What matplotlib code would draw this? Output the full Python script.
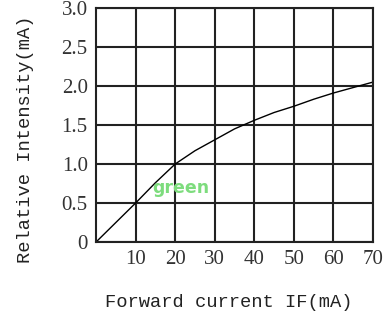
import numpy as np
import matplotlib
matplotlib.use('Agg')
import matplotlib.pyplot as plt

# forward current (mA) vs relative intensity
current = [0, 5, 10, 15, 20, 25, 30, 35, 40, 45, 50, 55, 60, 65, 70]
intensity = [0, 0.25, 0.5, 0.76, 1.0, 1.17, 1.31, 1.45, 1.56, 1.66, 1.74, 1.83, 1.91, 1.98, 2.05]

x_ticks = [10, 20, 30, 40, 50, 60, 70]
y_ticks = [0, 0.5, 1.0, 1.5, 2.0, 2.5, 3.0]
y_labels = ['0', '0.5', '1.0', '1.5', '2.0', '2.5', '3.0']

fig = plt.figure(figsize=(3.89, 3.18), dpi=100)
ax = fig.add_axes([0.247, 0.239, 0.712, 0.736])

ax.plot(current, intensity, color='black', lw=1.0)

ax.set_xlim(0, 70)
ax.set_ylim(0, 3.0)
ax.set_xticks(x_ticks)
ax.set_yticks(y_ticks)
ax.set_yticklabels(y_labels)
ax.grid(True, color='#222222', lw=1.5)
ax.tick_params(length=0, pad=6, labelsize=15, colors='#333333')
for lab in ax.get_xticklabels() + ax.get_yticklabels():
    lab.set_family('Liberation Serif')
for s in ax.spines.values():
    s.set_color('#222222')
    s.set_linewidth(1.5)

ax.text(21.5, 0.69, 'green', color='#7ddc7d', fontsize=12.5, fontweight='bold',
        ha='center', va='center')

ax.set_xlabel('Forward current IF(mA)', family='Liberation Mono', fontsize=13.5,
              color='#222222', va='center')
ax.set_ylabel('Relative Intensity(mA)', family='Liberation Mono', fontsize=13.5,
              color='#222222', va='center')
ax.xaxis.set_label_coords(0.48, -0.26)
ax.yaxis.set_label_coords(-0.256, 0.44)

fig.savefig('out.png', dpi=100, facecolor='white')
